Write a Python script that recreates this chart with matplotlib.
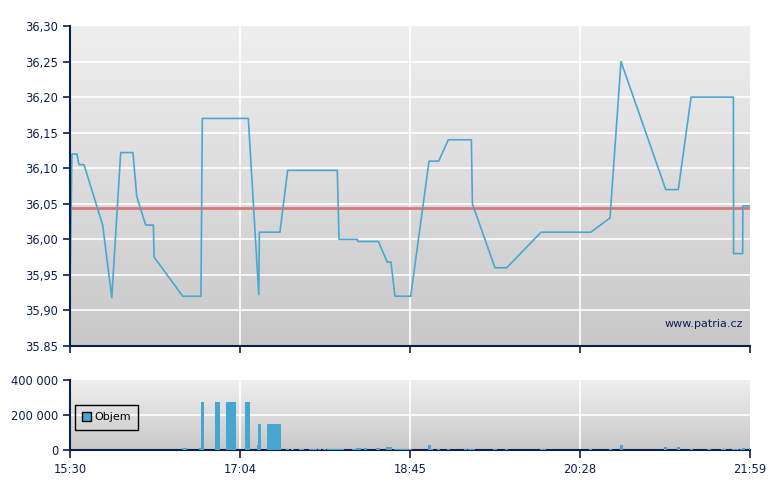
import numpy as np
import matplotlib
matplotlib.use("Agg")
import matplotlib.pyplot as plt
from matplotlib.colors import LinearSegmentedColormap
from matplotlib.patches import Patch

# ---- data ----
# time axis: minutes since 15:30 (session 15:30 - 21:59)
price_t = [0, 1.1, 4.0, 5.1, 8.0, 18.7, 23.9, 29.0, 36.0, 38.2, 43.3, 47.7, 48.1,
           64.5, 74.9, 75.7, 102.0, 108.0, 108.3, 120.1, 124.5, 152.9, 153.9,
           164.4, 164.6, 176.4, 181.5, 183.6, 185.9, 194.9, 205.4, 210.9, 216.4,
           229.6, 230.2, 243.1, 249.8, 269.5, 297.9, 308.9, 315.2, 340.8, 348.0,
           355.3, 379.5, 379.6, 384.8, 384.9, 389.0]
price_v = [35.93, 36.12, 36.12, 36.105, 36.105, 36.02, 35.918, 36.122, 36.122, 36.06,
           36.02, 36.02, 35.975, 35.92, 35.92, 36.17, 36.17, 35.922, 36.01, 36.01,
           36.097, 36.097, 36.0, 36.0, 35.997, 35.997, 35.968, 35.968, 35.92, 35.92,
           36.11, 36.11, 36.14, 36.14, 36.05, 35.96, 35.96, 36.01, 36.01, 36.03,
           36.25, 36.07, 36.07, 36.20, 36.20, 35.98, 35.98, 36.047, 36.047]
prev_close = 36.044

vol_start = [64.1, 73.8, 74.9, 82.9, 89.2, 100.1, 107.0, 107.5, 112.7, 123.6, 126.4,
             131.0, 136.7, 141.9, 144.7, 147.0, 161.3, 163.6, 168.2, 175.1, 180.8,
             185.3, 204.8, 206.5, 209.9, 215.7, 225.4, 227.7, 242.0, 248.8, 268.9,
             296.9, 308.3, 314.6, 339.8, 347.2, 354.7, 364.4, 372.4, 378.7, 383.3,
             384.4, 388.4]
vol_end = [66.9, 74.9, 76.7, 85.8, 95.0, 103.0, 107.5, 109.3, 120.7, 125.3, 128.1,
           133.9, 141.3, 143.6, 146.4, 156.7, 163.6, 166.5, 169.9, 177.3, 184.2,
           195.6, 206.5, 207.7, 211.7, 217.4, 227.1, 231.7, 244.3, 250.6, 272.3,
           298.6, 310.1, 316.4, 341.5, 348.9, 356.4, 366.7, 375.3, 382.7, 384.4,
           386.1, 389.0]
vol_v = [13000, 13000, 277000, 277000, 277000, 277000, 30000, 151000, 151000, 8000, 8000,
         8000, 8000, 8000, 8000, 8000, 8000, 13000, 13000, 13000, 17000,
         6000, 29000, 6000, 6000, 6000, 6000, 6000, 6000, 6000, 6000,
         6000, 6000, 29000, 17000, 17000, 6000, 6000, 6000, 6000, 6000,
         11000, 11000]

x_tick_labels = ["15:30", "17:04", "18:45", "20:28", "21:59"]
price_ticks = [35.85, 35.90, 35.95, 36.00, 36.05, 36.10, 36.15, 36.20, 36.25, 36.30]
price_tick_labels = ["35.85", "35,90", "35,95", "36,00", "36,05", "36,10",
                     "36,15", "36,20", "36,25", "36,30"]
vol_ticks = [0, 200000, 400000]
vol_tick_labels = ["0", "200 000", "400 000"]

# ---- style ----
NAVY = "#0b1f4f"
LINE = "#4aa7d1"
BAR = "#47a6cf"
RED = "#d9787a"
t_min, t_max = 0, 389
x_ticks = np.linspace(t_min, t_max, len(x_tick_labels))

plt.rcParams["font.family"] = ["DejaVu Sans"]
fig = plt.figure(figsize=(7.8, 4.9), dpi=100)
fig.patch.set_facecolor("white")

grad = LinearSegmentedColormap.from_list("g", ["#c8c8c8", "#efefef"])


def style(ax):
    ax.imshow(np.linspace(0, 1, 256).reshape(-1, 1), extent=[0, 1, 0, 1],
              transform=ax.transAxes, aspect="auto", cmap=grad, origin="lower",
              zorder=0)
    for s in ["top", "right"]:
        ax.spines[s].set_visible(False)
    for s in ["left", "bottom"]:
        ax.spines[s].set_color(NAVY)
        ax.spines[s].set_linewidth(1.5)
        ax.spines[s].set_zorder(5)
    ax.tick_params(colors=NAVY, labelcolor=NAVY, labelsize=8.3, width=1.2,
                   length=5, direction="out")
    ax.set_xlim(t_min, t_max)
    ax.set_xticks(x_ticks)
    for xv in x_ticks[1:-1]:
        ax.axvline(xv, color="white", lw=1.2, zorder=1)


# main price panel
ax = fig.add_axes([70 / 780, 1 - 346 / 490, 680 / 780, 320 / 490])
style(ax)
ax.set_ylim(35.85, 36.30)
ax.set_yticks(price_ticks)
ax.set_yticklabels(price_tick_labels)
for yv in price_ticks[1:-1]:
    ax.axhline(yv, color="white", lw=1.2, zorder=1)
ax.set_xticklabels([])
ax.axhline(prev_close, color=RED, lw=2, zorder=2)
ax.plot(price_t, price_v, color=LINE, lw=1.2, zorder=3)
ax.text(0.99, 0.07, "www.patria.cz", transform=ax.transAxes, ha="right",
        va="center", color=NAVY, fontsize=8)

# volume panel
axv = fig.add_axes([70 / 780, 1 - 450 / 490, 680 / 780, 70 / 490])
style(axv)
axv.set_ylim(0, 400000)
axv.set_yticks(vol_ticks)
axv.set_yticklabels(vol_tick_labels)
axv.axhline(200000, color="white", lw=1.2, zorder=1)
widths = np.array(vol_end) - np.array(vol_start)
axv.bar(vol_start, vol_v, width=widths, align="edge", color=BAR, zorder=6,
        linewidth=0)
axv.set_xticklabels(x_tick_labels)
axv.tick_params(axis="x", length=6, pad=3)
leg = axv.legend(handles=[Patch(facecolor=BAR, edgecolor="black", linewidth=1,
                                label="Objem")],
                 loc="upper left", bbox_to_anchor=(0.007, 0.643), frameon=True,
                 fancybox=False, fontsize=8, handlelength=0.8, handleheight=0.8,
                 handletextpad=0.3, borderpad=0.65, borderaxespad=0)
frame = leg.get_frame()
frame.set_facecolor("none")
frame.set_edgecolor("black")
frame.set_linewidth(1)
frame.set_alpha(None)
leg.set_zorder(7)

fig.savefig("out.png", dpi=100)
